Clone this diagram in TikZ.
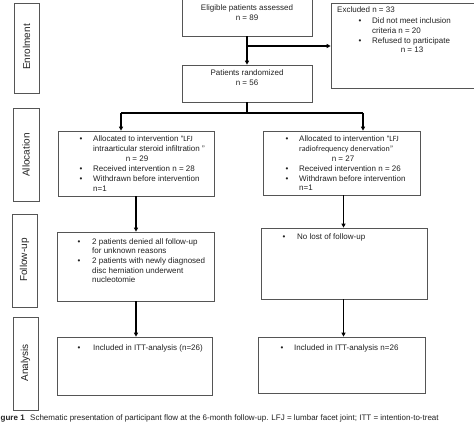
\documentclass[tikz,border=0pt]{standalone}
\usepackage{fontspec}
\setmainfont{Liberation Sans}
\newfontfamily\narrowfont{Carlito}
\usetikzlibrary{arrows.meta}
\definecolor{boxgray}{HTML}{555555}
\definecolor{txtgray}{HTML}{222222}
\tikzset{
  box/.style={draw=boxgray, line width=0.7pt, inner sep=0pt},
  txt/.style={inner sep=0pt, text=txtgray, font=\fontsize{8}{9.8}\selectfont},
  side/.style={inner sep=0pt, text=txtgray, rotate=90, font=\fontsize{10}{12}\selectfont},
  flow/.style={line width=1.3pt, -{Triangle[length=4pt,width=4pt]}},
  flowline/.style={line width=1.3pt}
}
\begin{document}
\begin{tikzpicture}[x=1pt,y=-1pt]
\clip (0,0) rectangle (474,422);
\useasboundingbox (0,0) rectangle (474,422);
\fill[white] (0,0) rectangle (474,422);

% side boxes
\node[box, minimum width=25pt, minimum height=90pt] (senr) at (26.5,48) {};
\node[side] (lenr) at (26.5,47) {Enrolment};
\node[box, minimum width=26pt, minimum height=93pt] (sall) at (26,154.5) {};
\node[side] (lall) at (26,155) {Allocation};
\node[box, minimum width=25pt, minimum height=93pt] (sfol) at (24.5,260.5) {};
\node[side] (lfol) at (24.5,260) {Follow-up};
\node[box, minimum width=25pt, minimum height=93pt] (sana) at (25.5,363.5) {};
\node[side] (lana) at (25.5,363) {Analysis};

% main boxes
\node[box, minimum width=130pt, minimum height=39pt] (elig) at (247,16.5) {};
\node[box, minimum width=130pt, minimum height=37pt] (rand) at (247,83.5) {};
\node[box, minimum width=149pt, minimum height=85pt] (excl) at (405.5,45.5) {};
\node[box, minimum width=156pt, minimum height=65pt] (la) at (136,163.5) {};
\node[box, minimum width=157pt, minimum height=64pt] (ra) at (341.5,163) {};
\node[box, minimum width=157pt, minimum height=69pt] (lf) at (135.5,266.5) {};
\node[box, minimum width=166pt, minimum height=71pt] (rf) at (344,263.5) {};
\node[box, minimum width=155pt, minimum height=58pt] (lan) at (134.5,366) {};
\node[box, minimum width=167pt, minimum height=56pt] (ran) at (341.5,365) {};

% texts: eligible / randomized
\node[txt, anchor=base] (e1) at (247,11) {Eligible patients assessed};
\node[txt, anchor=base] (e2) at (247,20.5) {n = 89};
\node[txt, anchor=base] (r1) at (247,76) {Patients randomized};
\node[txt, anchor=base] (r2) at (247,86) {n = 56};

% excluded
\node[txt, anchor=base west] (x0) at (337,13) {Excluded n = 33};
\node[txt, anchor=base] (xb1) at (360,24) {•};
\node[txt, anchor=base west] (x1) at (372,24) {Did not meet inclusion};
\node[txt, anchor=base west] (x2) at (372,33.5) {criteria n = 20};
\node[txt, anchor=base] (xb2) at (360,43.5) {•};
\node[txt, anchor=base west] (x3) at (372,43.5) {Refused to participate};
\node[txt, anchor=base] (x4) at (412,53) {n = 13};

% left allocation
\node[txt, anchor=base] (lab1) at (81,142) {•};
\node[txt, anchor=base west] (la1) at (93,142) {Allocated to intervention “{\narrowfont LFJ}};
\node[txt, anchor=base west] (la2) at (93,152) {intraarticular steroid infiltration ”};
\node[txt, anchor=base] (la3) at (137,162) {n = 29};
\node[txt, anchor=base] (lab2) at (81,172) {•};
\node[txt, anchor=base west] (la4) at (93,172) {Received intervention n = 28};
\node[txt, anchor=base] (lab3) at (81,182) {•};
\node[txt, anchor=base west] (la5) at (93,182) {Withdrawn before intervention};
\node[txt, anchor=base west] (la6) at (93,191.5) {n=1};

% right allocation
\node[txt, anchor=base] (rab1) at (287,142) {•};
\node[txt, anchor=base west] (ra1) at (299,142) {Allocated to intervention “{\narrowfont LFJ}};
\node[txt, anchor=base west] (ra2) at (299,152) {\narrowfont radiofrequency denervation”};
\node[txt, anchor=base] (ra3) at (343,162) {n = 27};
\node[txt, anchor=base] (rab2) at (287,171.5) {•};
\node[txt, anchor=base west] (ra4) at (299,171.5) {Received intervention n = 26};
\node[txt, anchor=base] (rab3) at (287,181.5) {•};
\node[txt, anchor=base west] (ra5) at (299,181.5) {Withdrawn before intervention};
\node[txt, anchor=base west] (ra6) at (299,191) {n=1};

% left follow-up
\node[txt, anchor=base] (lfb1) at (79,244) {•};
\node[txt, anchor=base west] (lf1) at (92,244) {2 patients denied all follow-up};
\node[txt, anchor=base west] (lf2) at (92,253.5) {for unknown reasons};
\node[txt, anchor=base] (lfb2) at (79,263.5) {•};
\node[txt, anchor=base west] (lf3) at (92,263.5) {2 patients with newly diagnosed};
\node[txt, anchor=base west] (lf4) at (92,273) {disc herniation underwent};
\node[txt, anchor=base west] (lf5) at (92,282.5) {nucleotomie};

% right follow-up
\node[txt, anchor=base] (rfb1) at (284,240) {•};
\node[txt, anchor=base west] (rf1) at (297,240) {No lost of follow-up};

% analysis
\node[txt, anchor=base] (lnb1) at (79,350) {•};
\node[txt, anchor=base west] (ln1) at (93,350) {Included in ITT-analysis (n=26)};
\node[txt, anchor=base] (rnb1) at (282,350) {•};
\node[txt, anchor=base west] (rn1) at (294,350) {Included in ITT-analysis n=26};

% caption (as printed in the reference)
\node[txt, anchor=base west, font=\fontsize{8}{9.8}\selectfont\bfseries] (capl) at (0.5,420) {gure 1};
\node[txt, anchor=base west] (capt) at (30,420) {Schematic presentation of participant flow at the 6-month follow-up. LFJ = lumbar facet joint; ITT = intention-to-treat};

% connectors
\coordinate (br1) at (247,46);
\coordinate (br2) at (247,113);
\coordinate (brl) at (121,113);
\coordinate (brr) at (363,113);
\draw[flow] (elig.south) -- (rand.north);
\draw[flow] (br1) -- (br1 -| excl.west);
\draw[flowline] (rand.south) -- (br2);
\draw[flowline] (brl) -- (brr);
\draw[flow] (brl) -- (brl |- la.north);
\draw[flow] (brr) -- (brr |- ra.north);
\coordinate (cl) at (136,0);
\coordinate (cr) at (343.5,0);
\draw[flow] (cl |- la.south) -- (cl |- lf.north);
\draw[flow] (cr |- ra.south) -- (cr |- rf.north);
\draw[flow] (cl |- lf.south) -- (cl |- lan.north);
\draw[flow] (cr |- rf.south) -- (cr |- ran.north);
\end{tikzpicture}
\end{document}
